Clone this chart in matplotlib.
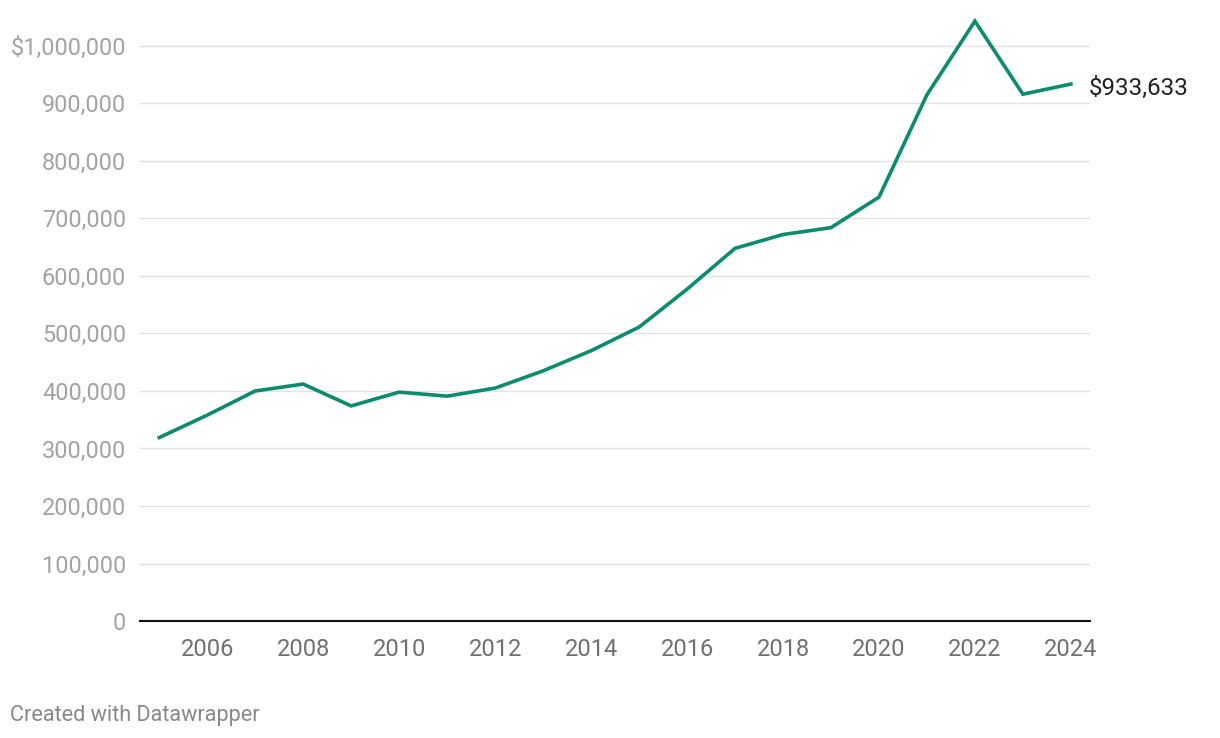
import matplotlib
matplotlib.use("Agg")
import matplotlib.pyplot as plt
from matplotlib.ticker import FuncFormatter

plt.rcParams['font.family'] = ['Roboto', 'DejaVu Sans']

# median price by year
years = [2005, 2006, 2007, 2008, 2009, 2010, 2011, 2012, 2013, 2014,
         2015, 2016, 2017, 2018, 2019, 2020, 2021, 2022, 2023, 2024]
prices = [319000, 358000, 400000, 412000, 374000, 398000, 391000, 405000, 435000, 470000,
          511000, 577000, 648000, 672000, 684000, 737000, 915000, 1043000, 916000, 933633]

yticks = list(range(0, 1000001, 100000))
xticks = list(range(2006, 2025, 2))
end_label = '$933,633'

line_col = '#0b8c6c'

fig = plt.figure(figsize=(12.2, 7.38), dpi=100)
ax = fig.add_axes([0.1148, 0.1585, 0.7787, 0.8144])

ax.plot(years, prices, color=line_col, lw=2.6, clip_on=False, solid_joinstyle='miter', zorder=3)

ax.set_xlim(2004.6, 2024.4)
ax.set_ylim(0, 1045000)
ax.set_yticks(yticks)
ax.set_xticks(xticks)

def fmt(v, pos):
    if v == 1000000:
        return '$1,000,000'
    return f'{int(v):,}'
ax.yaxis.set_major_formatter(FuncFormatter(fmt))

for s in ['top', 'right', 'left']:
    ax.spines[s].set_visible(False)
ax.spines['bottom'].set_color('#111111')
ax.spines['bottom'].set_linewidth(1.5)

ax.grid(axis='y', color='#e2e2e2', lw=1)
ax.set_axisbelow(True)
ax.tick_params(axis='y', length=0, pad=10, labelsize=16.9, labelcolor='#a3a3a3')
ax.tick_params(axis='x', length=0, pad=12, labelsize=17, labelcolor='#707070')

ax.annotate(end_label, xy=(years[-1], prices[-1]), xytext=(13, -3), textcoords='offset points',
            fontsize=17.4, color='#222222', va='center', ha='left', annotation_clip=False)

fig.text(10 / 1220, 1 - 716 / 738, 'Created with Datawrapper', fontsize=15.6, color='#888888',
         va='center', ha='left')

fig.savefig('out.png', dpi=100)
